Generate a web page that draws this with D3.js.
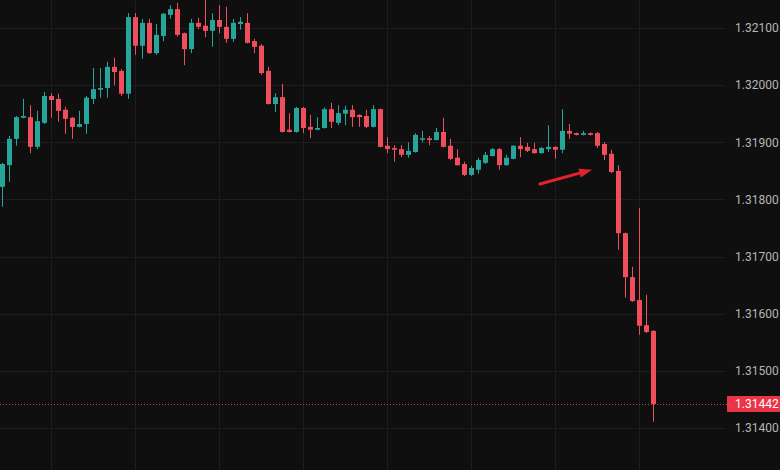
<!DOCTYPE html>
<html>
<head>
<meta charset="utf-8">
<script src="https://cdn.jsdelivr.net/npm/d3@7"></script>
<style>
  html, body { margin: 0; padding: 0; background: #0f0f0f; }
  svg { display: block; }
</style>
</head>
<body>
<svg id="chart" width="780" height="470"></svg>
<script>
// ---- data ----
const opens = [1.31822,1.31860,1.31906,1.31943,1.31944,1.31892,1.31934,1.31981,1.31976,1.31957,
  1.31943,1.31927,1.31932,1.31976,1.31992,1.31995,1.32032,1.32025,1.31985,1.32119,
  1.32069,1.32109,1.32056,1.32086,1.32123,1.32133,1.32091,1.32063,1.32109,1.32104,
  1.32095,1.32114,1.32102,1.32081,1.32107,1.32109,1.32077,1.32069,1.32025,1.31967,
  1.31979,1.31922,1.31918,1.31960,1.31927,1.31922,1.31925,1.31958,1.31934,1.31950,
  1.31957,1.31948,1.31946,1.31927,1.31958,1.31894,1.31890,1.31888,1.31878,1.31883,
  1.31906,1.31907,1.31904,1.31918,1.31894,1.31873,1.31862,1.31843,1.31852,1.31864,
  1.31876,1.31888,1.31860,1.31871,1.31894,1.31892,1.31888,1.31881,1.31888,1.31892,
  1.31887,1.31920,1.31916,1.31913,1.31916,1.31916,1.31897,1.31880,1.31850,1.31741,
  1.31664,1.31624,1.31580,1.31570];
const highs = [1.31864,1.31911,1.31946,1.31976,1.31965,1.31955,1.31988,1.31986,1.31985,1.31962,
  1.31944,1.31955,1.31981,1.32030,1.32030,1.32041,1.32048,1.32028,1.32126,1.32126,
  1.32116,1.32116,1.32107,1.32126,1.32140,1.32144,1.32092,1.32116,1.32118,1.32149,
  1.32126,1.32140,1.32137,1.32116,1.32119,1.32126,1.32081,1.32072,1.32032,1.31986,
  1.32002,1.31951,1.31962,1.31962,1.31948,1.31944,1.31961,1.31969,1.31965,1.31964,
  1.31965,1.31949,1.31957,1.31965,1.31959,1.31909,1.31895,1.31895,1.31900,1.31916,
  1.31920,1.31911,1.31925,1.31943,1.31906,1.31888,1.31866,1.31859,1.31873,1.31883,
  1.31890,1.31890,1.31878,1.31895,1.31909,1.31899,1.31899,1.31892,1.31930,1.31893,
  1.31958,1.31932,1.31917,1.31920,1.31917,1.31918,1.31900,1.31887,1.31860,1.31742,
  1.31682,1.31785,1.31633,1.31571];
const lows = [1.31787,1.31831,1.31894,1.31942,1.31881,1.31888,1.31932,1.31943,1.31936,1.31915,
  1.31906,1.31926,1.31915,1.31967,1.31978,1.31978,1.32000,1.31981,1.31976,1.32053,
  1.32046,1.32055,1.32053,1.32077,1.32116,1.32085,1.32035,1.32056,1.32098,1.32084,
  1.32067,1.32091,1.32074,1.32076,1.32097,1.32073,1.32056,1.32018,1.31966,1.31953,
  1.31917,1.31917,1.31917,1.31916,1.31907,1.31921,1.31924,1.31925,1.31930,1.31930,
  1.31927,1.31927,1.31925,1.31926,1.31891,1.31881,1.31866,1.31874,1.31873,1.31882,
  1.31900,1.31895,1.31903,1.31891,1.31869,1.31859,1.31841,1.31841,1.31845,1.31862,
  1.31875,1.31852,1.31859,1.31870,1.31874,1.31883,1.31880,1.31880,1.31883,1.31871,
  1.31881,1.31906,1.31912,1.31912,1.31912,1.31890,1.31869,1.31846,1.31712,1.31628,
  1.31621,1.31563,1.31566,1.31411];
const closes = [1.31862,1.31906,1.31944,1.31946,1.31892,1.31937,1.31981,1.31974,1.31955,1.31941,
  1.31927,1.31932,1.31978,1.31993,1.31995,1.32032,1.32023,1.31985,1.32119,1.32069,
  1.32109,1.32056,1.32088,1.32125,1.32133,1.32088,1.32063,1.32109,1.32102,1.32095,
  1.32114,1.32102,1.32081,1.32109,1.32111,1.32074,1.32067,1.32021,1.31967,1.31979,
  1.31918,1.31918,1.31960,1.31925,1.31922,1.31925,1.31958,1.31936,1.31951,1.31957,
  1.31944,1.31944,1.31927,1.31958,1.31892,1.31888,1.31887,1.31878,1.31885,1.31913,
  1.31907,1.31904,1.31918,1.31892,1.31871,1.31860,1.31843,1.31855,1.31869,1.31878,
  1.31888,1.31860,1.31873,1.31894,1.31888,1.31885,1.31881,1.31890,1.31892,1.31887,
  1.31920,1.31915,1.31913,1.31916,1.31913,1.31894,1.31878,1.31848,1.31741,1.31664,
  1.31622,1.31579,1.31568,1.31442];
const priceTicks = [1.314, 1.315, 1.316, 1.317, 1.318, 1.319, 1.320, 1.321];
const lastPrice = 1.31442;
const timeGridIndex = [7, 19, 31, 43, 55, 67, 79, 91];
const arrowStart = { i: 76.85, p: 1.31827 };
const arrowEnd = { i: 84.3, p: 1.31852 };

// ---- styling ----
const W = 780, H = 470;
const plotRight = 725;
const upColor = "#26a69a";
const downColor = "#ef4f5c";
const gridColor = "#1d1d1d";

const candles = opens.map((o, i) => ({ i, o, h: highs[i], l: lows[i], c: closes[i] }));

const svg = d3.select("#chart");
svg.append("rect").attr("width", W).attr("height", H).attr("fill", "#0f0f0f");

const x = d3.scaleLinear().domain([0, candles.length - 1]).range([2, 653]);
const y = d3.scaleLinear().domain([1.314, 1.321]).range([428, 28]);

// grid
const grid = svg.append("g");
grid.selectAll("line.h").data(priceTicks).join("line")
  .attr("x1", 0).attr("x2", plotRight)
  .attr("y1", d => Math.round(y(d)) + 0.5).attr("y2", d => Math.round(y(d)) + 0.5)
  .attr("stroke", gridColor).attr("stroke-width", 1);
grid.selectAll("line.v").data(timeGridIndex).join("line")
  .attr("x1", d => Math.round(x(d)) + 0.5).attr("x2", d => Math.round(x(d)) + 0.5)
  .attr("y1", 0).attr("y2", H)
  .attr("stroke", gridColor).attr("stroke-width", 1);

// last price dotted line
svg.append("line")
  .attr("x1", 0).attr("x2", 727)
  .attr("y1", Math.round(y(lastPrice)) + 0.5).attr("y2", Math.round(y(lastPrice)) + 0.5)
  .attr("stroke", "#c8404c").attr("stroke-width", 1)
  .attr("stroke-dasharray", "1,2");

// candles
const cg = svg.append("g");
const bodyW = 5;
cg.selectAll("line.wick").data(candles).join("line")
  .attr("x1", d => Math.round(x(d.i)) + 0.5).attr("x2", d => Math.round(x(d.i)) + 0.5)
  .attr("y1", d => y(d.h)).attr("y2", d => y(d.l))
  .attr("stroke", d => d.c >= d.o ? upColor : downColor)
  .attr("stroke-width", 1);
cg.selectAll("rect.body").data(candles).join("rect")
  .attr("x", d => Math.round(x(d.i)) - 2)
  .attr("width", bodyW)
  .attr("y", d => y(Math.max(d.o, d.c)))
  .attr("height", d => Math.max(1.5, Math.abs(y(d.o) - y(d.c))))
  .attr("fill", d => d.c >= d.o ? upColor : downColor);

// price axis
const axis = d3.axisRight(y).tickValues(priceTicks)
  .tickFormat(d3.format(".5f")).tickSize(0).tickPadding(0);
const ag = svg.append("g").attr("transform", "translate(735,0)").call(axis);
ag.select(".domain").remove();
ag.selectAll("text")
  .attr("fill", "#b6b6b6")
  .attr("font-family", "Roboto, 'Noto Sans', sans-serif")
  .attr("font-size", 12);

// last price label
const ly = y(lastPrice);
svg.append("rect").attr("x", 727).attr("y", ly - 8).attr("width", 53).attr("height", 16)
  .attr("fill", "#ea3447");
svg.append("text").attr("x", 735).attr("y", ly).attr("dy", "0.35em")
  .attr("fill", "#ffffff")
  .attr("font-family", "Roboto, 'Noto Sans', sans-serif")
  .attr("font-size", 12)
  .text(d3.format(".5f")(lastPrice));

// red arrow annotation
const ax1 = x(arrowStart.i), ay1 = y(arrowStart.p);
const ax2 = x(arrowEnd.i), ay2 = y(arrowEnd.p);
const ang = Math.atan2(ay2 - ay1, ax2 - ax1);
const headLen = 13, headHalf = 4.5;
const bx = ax2 - headLen * Math.cos(ang), by = ay2 - headLen * Math.sin(ang);
svg.append("line")
  .attr("x1", ax1).attr("y1", ay1).attr("x2", bx).attr("y2", by)
  .attr("stroke", "#e3232a").attr("stroke-width", 3).attr("stroke-linecap", "round");
svg.append("path")
  .attr("d", `M${ax2},${ay2} L${bx + headHalf * Math.sin(ang)},${by - headHalf * Math.cos(ang)} L${bx - headHalf * Math.sin(ang)},${by + headHalf * Math.cos(ang)} Z`)
  .attr("fill", "#e3232a");
</script>
</body>
</html>
